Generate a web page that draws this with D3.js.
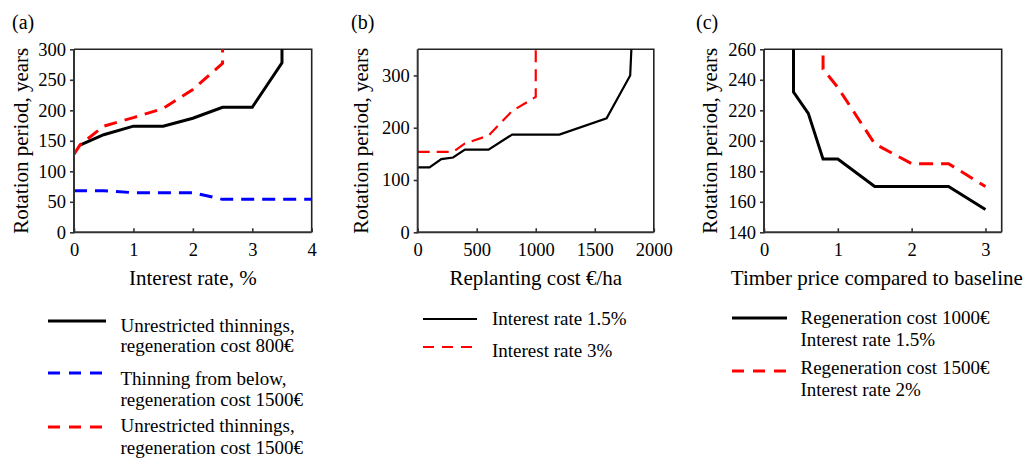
<!DOCTYPE html>
<html><head><meta charset="utf-8">
<script src="https://cdn.jsdelivr.net/npm/d3@7"></script>
<style>
html,body{margin:0;padding:0;background:#fff;}
svg{display:block;font-family:"Liberation Serif","Times New Roman",serif;}
</style></head>
<body>
<svg id="chart" width="1027" height="458"></svg>
<script>
// ---------- DATA ----------
// Panel (a): interest rate (%) vs rotation period (years)
const aBlackX = [0.1, 0.5, 1, 1.5, 2, 2.5, 3, 3.5, 3.5];
const aBlackY = [143, 160, 174, 174, 187, 205, 205, 278, 300];
const aBlueX  = [0, 0.5, 1, 1.5, 2, 2.5, 3, 3.5, 4];
const aBlueY  = [68, 68, 65, 65, 65, 54, 54, 54, 54];
const aRedX   = [0, 0.1, 0.5, 1, 1.5, 2, 2.5, 2.5];
const aRedY   = [128, 143, 174, 188, 203, 234, 277, 300];
const aXTicks = [0, 1, 2, 3, 4];
const aYTicks = [0, 50, 100, 150, 200, 250, 300];
const aLegend = [["Unrestricted thinnings,", "regeneration cost 800€"],
                 ["Thinning from below,", "regeneration cost 1500€"],
                 ["Unrestricted thinnings,", "regeneration cost 1500€"]];

// Panel (b): replanting cost (€/ha) vs rotation period
const bBlackX = [0, 100, 200, 300, 400, 600, 800, 1200, 1600, 1800, 1810];
const bBlackY = [124, 124, 140, 143, 158, 158, 187, 187, 218, 300, 350];
const bRedX   = [0, 300, 400, 600, 800, 1000, 1000];
const bRedY   = [154, 154, 170, 185, 232, 259, 350];
const bXTicks = [0, 500, 1000, 1500, 2000];
const bYTicks = [0, 100, 200, 300];
const bLegend = [["Interest rate 1.5%"], ["Interest rate 3%"]];

// Panel (c): timber price relative to baseline vs rotation period
const cBlackX = [0.4, 0.4, 0.6, 0.8, 1, 1.5, 2.5, 3];
const cBlackY = [260, 232, 218, 188, 188, 170, 170, 155];
const cRedX   = [0.8, 0.8, 1, 1.5, 2, 2.5, 3];
const cRedY   = [256, 247, 235, 198, 185, 185, 170];
const cXTicks = [0, 1, 2, 3];
const cYTicks = [140, 160, 180, 200, 220, 240, 260];
const cLegend = [["Regeneration cost 1000€", "Interest rate 1.5%"],
                 ["Regeneration cost 1500€", "Interest rate 2%"]];

// ---------- LAYOUT / STYLE ----------
const svg = d3.select("#chart");
const zip = (xs, ys) => xs.map((x, i) => [x, ys[i]]);
const fmt = d3.format("d");

const panels = [
  { tag: "(a)", tagX: 12, left: 74, right: 311.7, xDom: [0, 4], yDom: [0, 300],
    xTicks: aXTicks, yTicks: aYTicks, xTitle: "Interest rate, %", yTitleX: 21,
    series: [
      { pts: zip(aBlackX, aBlackY), color: "#000", w: 3, dash: null },
      { pts: zip(aBlueX, aBlueY), color: "#0000ff", w: 3, dash: "13,8" },
      { pts: zip(aRedX, aRedY), color: "#ff0000", w: 3, dash: "13,8" }
    ],
    legend: { x1: 48, x2: 106, tx: 120.5, items: [
      { lines: aLegend[0], sy: 321, ty: [325, 345], color: "#000", w: 3, dash: null },
      { lines: aLegend[1], sy: 373, ty: [378, 399], color: "#0000ff", w: 3, dash: "12,9" },
      { lines: aLegend[2], sy: 427, ty: [425, 447], color: "#ff0000", w: 3, dash: "12,9" }
    ]}
  },
  { tag: "(b)", tagX: 351, left: 417.7, right: 653.8, xDom: [0, 2000], yDom: [0, 350],
    xTicks: bXTicks, yTicks: bYTicks, xTitle: "Replanting cost €/ha", yTitleX: 361,
    series: [
      { pts: zip(bBlackX, bBlackY), color: "#000", w: 2.2, dash: null },
      { pts: zip(bRedX, bRedY), color: "#ff0000", w: 2.2, dash: "12,7" }
    ],
    legend: { x1: 423, x2: 477, tx: 492, items: [
      { lines: bLegend[0], sy: 319, ty: [318.5], color: "#000", w: 2.2, dash: null },
      { lines: bLegend[1], sy: 347, ty: [350], color: "#ff0000", w: 2.2, dash: "11,8" }
    ]}
  },
  { tag: "(c)", tagX: 696, left: 764, right: 1001.7, xDom: [0, 3.22], yDom: [140, 260],
    xTicks: cXTicks, yTicks: cYTicks, xTitle: "Timber price compared to baseline", yTitleX: 710,
    series: [
      { pts: zip(cBlackX, cBlackY), color: "#000", w: 3, dash: null },
      { pts: zip(cRedX, cRedY), color: "#ff0000", w: 3, dash: "14,8" }
    ],
    legend: { x1: 732, x2: 787, tx: 800.5, items: [
      { lines: cLegend[0], sy: 318, ty: [317, 339.5], color: "#000", w: 3, dash: null },
      { lines: cLegend[1], sy: 371, ty: [367.5, 389.5], color: "#ff0000", w: 3, dash: "12,9" }
    ]}
  }
];

const plotTop = 49.3, plotBottom = 232.3;

panels.forEach(p => {
  const g = svg.append("g");
  const x = d3.scaleLinear().domain(p.xDom).range([p.left, p.right]);
  const y = d3.scaleLinear().domain(p.yDom).range([plotBottom, plotTop]);

  // panel tag
  g.append("text").attr("x", p.tagX).attr("y", 28.5)
    .attr("font-size", 20).attr("fill", "#000").text(p.tag);

  // frame top/right
  g.append("path")
    .attr("d", `M${p.left},${plotTop}H${p.right}V${plotBottom}`)
    .attr("fill", "none").attr("stroke", "#222").attr("stroke-width", 1.6);

  // clip
  const cid = "clip" + p.tag.replace(/[()]/g, "");
  svg.append("clipPath").attr("id", cid).append("rect")
    .attr("x", p.left).attr("y", plotTop - 1).attr("width", p.right - p.left).attr("height", plotBottom - plotTop + 1);

  // series
  const line = d3.line().x(d => x(d[0])).y(d => y(d[1]));
  p.series.forEach(s => {
    g.append("path").datum(s.pts)
      .attr("clip-path", `url(#${cid})`)
      .attr("d", line).attr("fill", "none")
      .attr("stroke", s.color).attr("stroke-width", s.w)
      .attr("stroke-linejoin", "miter")
      .attr("stroke-dasharray", s.dash);
  });

  // axes
  const ya = g.append("g").attr("transform", `translate(${p.left},0)`)
    .call(d3.axisLeft(y).tickValues(p.yTicks).tickFormat(fmt).tickSize(4).tickPadding(4).tickSizeOuter(0));
  const xa = g.append("g").attr("transform", `translate(0,${plotBottom})`)
    .call(d3.axisBottom(x).tickValues(p.xTicks).tickFormat(fmt).tickSize(-4).tickPadding(11).tickSizeOuter(0));
  [ya, xa].forEach(a => {
    a.attr("font-family", null);
    a.select(".domain").attr("stroke", "#333").attr("stroke-width", 2);
    a.selectAll(".tick line").attr("stroke", "#333").attr("stroke-width", 1.6);
    a.selectAll(".tick text").attr("font-size", 18.5).attr("fill", "#000")
      .attr("font-family", "Liberation Serif, Times New Roman, serif");
  });
  ya.select(".domain").attr("d", `M0,${plotBottom + 1}V${plotTop}`);
  xa.select(".domain").attr("d", `M${p.left - 1},0H${p.right}`);

  // axis titles
  g.append("text").attr("x", (p.left + p.right) / 2 + (p.tag === "(c)" ? -6 : 0)).attr("y", 284.5)
    .attr("text-anchor", "middle").attr("font-size", 21).attr("fill", "#000").text(p.xTitle);
  g.append("text").attr("transform", `translate(${p.yTitleX},${(plotTop + plotBottom) / 2}) rotate(-90)`)
    .attr("text-anchor", "middle").attr("dy", "0.35em")
    .attr("font-size", 21).attr("fill", "#000").text("Rotation period, years");

  // legend
  const L = p.legend;
  L.items.forEach(it => {
    g.append("line").attr("x1", L.x1).attr("x2", L.x2).attr("y1", it.sy).attr("y2", it.sy)
      .attr("stroke", it.color).attr("stroke-width", it.w).attr("stroke-dasharray", it.dash);
    it.lines.forEach((t, i) => {
      g.append("text").attr("x", L.tx).attr("y", it.ty[i]).attr("dy", "0.35em")
        .attr("font-size", 19).attr("fill", "#000").text(t);
    });
  });
});
</script>
</body></html>
